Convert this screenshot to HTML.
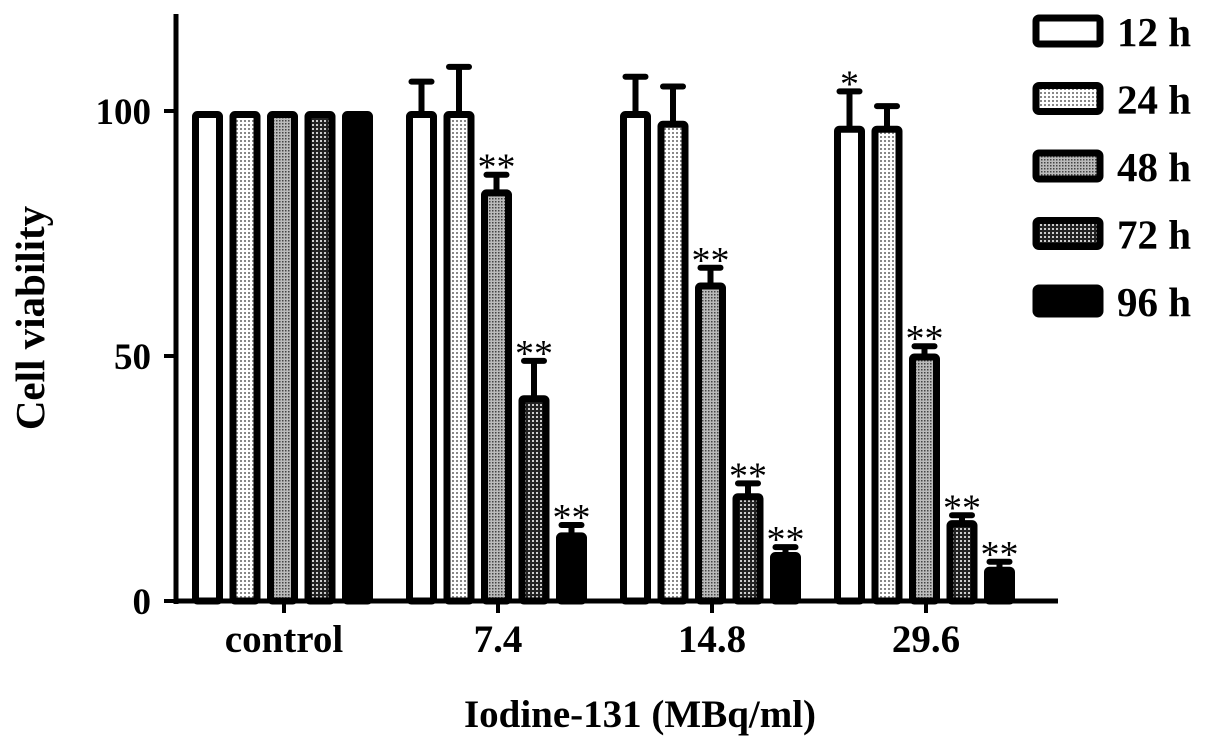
<!DOCTYPE html>
<html><head><meta charset="utf-8"><style>
body{margin:0;background:#fff}
svg{display:block;font-family:"Liberation Serif",serif;font-weight:bold}
</style></head><body>
<svg id="chart" width="1205" height="742" viewBox="0 0 1205 742">
<defs>
<pattern id="p24" width="4" height="4" patternUnits="userSpaceOnUse"><rect width="4" height="4" fill="#fff"/><rect width="2" height="2" fill="#888"/></pattern>
<pattern id="p48" width="3" height="3" patternUnits="userSpaceOnUse"><rect width="3" height="3" fill="#bbb"/><rect width="1.5" height="1.5" fill="#444"/></pattern>
<pattern id="p72" width="4" height="4" patternUnits="userSpaceOnUse"><rect width="4" height="4" fill="#222"/><rect width="2" height="2" fill="#ccc"/></pattern>
</defs>
<g id="marks"></g>
</svg>
<script>
const categories=["control","7.4","14.8","29.6"];
const seriesNames=["12 h","24 h","48 h","72 h","96 h"];
const v12=[100,100,100,97];
const v24=[100,100,98,97];
const v48=[100,84,65,50.5];
const v72=[100,42,22,16.5];
const v96=[100,14,10,7];
const e12=[0,6,7,7];
const e24=[0,9,7,4];
const e48=[0,3,3,1.5];
const e72=[0,7,2,1];
const e96=[0,1.5,1,1];
const sig12=["","","","*"];
const sig48=["","**","**","**"];
const sig72=["","**","**","**"];
const sig96=["","**","**","**"];
const yTicks=[0,50,100];

const NS="http://www.w3.org/2000/svg";
const g=document.getElementById('marks');
const y=v=>601-v*4.9;
const groupX=i=>192+i*214;
const barX=(i,s)=>groupX(i)+s*37.5;
const fills=["#fff","url(#p24)","url(#p48)","url(#p72)","#000"];
const vals=[v12,v24,v48,v72,v96];
const errs=[e12,e24,e48,e72,e96];
const sigs=[sig12,null,sig48,sig72,sig96];
function el(tag,attrs,parent){const e=document.createElementNS(NS,tag);for(const k in attrs)e.setAttribute(k,attrs[k]);(parent||g).appendChild(e);return e;}

categories.forEach((c,i)=>{
  vals.forEach((arr,s)=>{
    const x=barX(i,s)+3.5,w=24,top=y(arr[i])+3.5;
    const er=errs[s][i];
    if(er>0){
      const l=el('line',{x1:x+w/2,x2:x+w/2,y1:top,y2:y(arr[i]+er),stroke:'#000','stroke-width':6});
      
      
      const cap=el('line',{x1:x+w/2-10,x2:x+w/2+10,y1:y(arr[i]+er),y2:y(arr[i]+er),stroke:'#000','stroke-width':6,'stroke-linecap':'round'});
      
      
    }
    const r=el('rect',{x:x,y:top,width:w,height:601-top,fill:fills[s],stroke:'#000','stroke-width':7,rx:2});
    
    
    if(sigs[s]&&sigs[s][i]){
      const t=el('text',{x:x+w/2,y:y(arr[i]+er)+5,'text-anchor':'middle','font-size':38,'font-weight':'normal'});
      t.textContent=sigs[s][i];
      
      
    }
  });
});
const ya=el('line',{x1:176,x2:176,y1:14,y2:604,stroke:'#000','stroke-width':5});


const xa=el('line',{x1:174,x2:1058,y1:601,y2:601,stroke:'#000','stroke-width':5});


yTicks.forEach(t=>{
  const l=el('line',{x1:164,x2:176,y1:y(t),y2:y(t),stroke:'#000','stroke-width':4});
  
  
  const tx=el('text',{x:151,y:y(t)+13,'text-anchor':'end','font-size':37});
  tx.textContent=t;
  
  
});
categories.forEach((c,i)=>{
  const cx=groupX(i)+92;
  const l=el('line',{x1:cx,x2:cx,y1:601,y2:613,stroke:'#000','stroke-width':4});
  
  
  const tx=el('text',{x:cx,y:652,'text-anchor':'middle','font-size':39});
  tx.textContent=c;
  
  
});
const xt=el('text',{x:640,y:727,'text-anchor':'middle','font-size':39});
xt.textContent="Iodine-131 (MBq/ml)";


const yt=el('text',{x:0,y:0,'text-anchor':'middle','font-size':41,transform:'translate(44,318) rotate(-90)'});
yt.textContent="Cell viability";


seriesNames.forEach((n,s)=>{
  const ly=18+s*67.5;
  const r=el('rect',{x:1036,y:ly,width:64,height:26,fill:fills[s],stroke:'#000','stroke-width':7,rx:3});
  
  
  const t=el('text',{x:1117,y:ly+28,'font-size':41});
  t.textContent=n;
  
  
});
</script>
</body></html>
